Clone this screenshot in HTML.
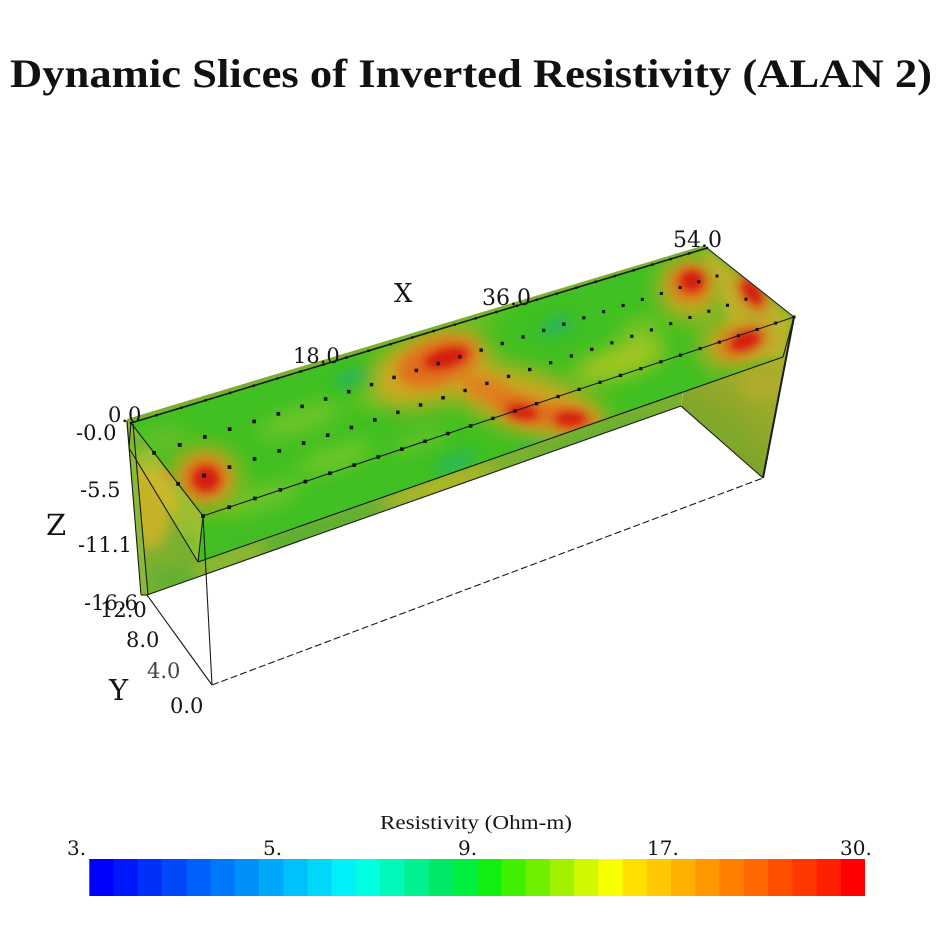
<!DOCTYPE html>
<html>
<head>
<meta charset="utf-8">
<style>
html,body{margin:0;padding:0;background:#fff;}
svg{display:block;}
</style>
</head>
<body>
<svg width="946" height="946" viewBox="0 0 946 946">
<defs>
<filter id="f12" filterUnits="userSpaceOnUse" x="0" y="0" width="946" height="946"><feGaussianBlur stdDeviation="12"/></filter>
<filter id="f10" filterUnits="userSpaceOnUse" x="0" y="0" width="946" height="946"><feGaussianBlur stdDeviation="10"/></filter>
<filter id="f7" filterUnits="userSpaceOnUse" x="0" y="0" width="946" height="946"><feGaussianBlur stdDeviation="7"/></filter>
<filter id="f5" filterUnits="userSpaceOnUse" x="0" y="0" width="946" height="946"><feGaussianBlur stdDeviation="5"/></filter>
<filter id="f3" filterUnits="userSpaceOnUse" x="0" y="0" width="946" height="946"><feGaussianBlur stdDeviation="4"/></filter>
<clipPath id="cTF"><polygon points="131,423 707,248 794,317 783,357 198,562 203,516"/></clipPath>
<clipPath id="cL"><polygon points="131,423 203,516 198,562 129,448"/></clipPath>
<clipPath id="cK"><polygon points="127,419 705,245 681,406 147,595"/></clipPath>
<clipPath id="cR"><polygon points="707,248 794,317 763,478 681,406"/></clipPath>
<linearGradient id="gR" gradientUnits="userSpaceOnUse" x1="790" y1="345" x2="705" y2="460">
<stop offset="0" stop-color="#b6ae2c"/>
<stop offset="0.45" stop-color="#9aaa2a"/>
<stop offset="1" stop-color="#70a42a"/>
</linearGradient>
</defs>

<rect x="0" y="0" width="946" height="946" fill="#ffffff"/>

<!-- Title -->
<text x="10" y="87" font-family="Liberation Serif, serif" font-weight="bold" font-size="40" fill="#111" textLength="922" lengthAdjust="spacingAndGlyphs">Dynamic Slices of Inverted Resistivity (ALAN 2)</text>

<!-- Back X-Z slice -->
<g clip-path="url(#cK)">
<rect x="100" y="200" width="700" height="420" fill="#7ab030"/>
<g filter="url(#f7)">
<ellipse cx="150" cy="505" rx="22" ry="45" fill="#c6b228"/>
<ellipse cx="143" cy="465" rx="10" ry="20" fill="#cbb82a"/>
<ellipse cx="175" cy="580" rx="25" ry="12" fill="#62b030"/>
<ellipse cx="440" cy="486" rx="60" ry="7" transform="rotate(-19 440 486)" fill="#c0b828"/>
<ellipse cx="300" cy="536" rx="90" ry="7" transform="rotate(-19 300 536)" fill="#52b030"/>
<ellipse cx="600" cy="438" rx="70" ry="6" transform="rotate(-19 600 438)" fill="#56b030"/>
<ellipse cx="230" cy="560" rx="40" ry="7" transform="rotate(-19 230 560)" fill="#94ba30"/>
</g>
</g>

<!-- thin left strip -->
<polygon points="126,420 133,423 148,595 141,595" fill="#8cb838"/>

<!-- Right Y-Z slice -->
<g clip-path="url(#cR)">
<polygon points="707,248 794,317 763,478 681,406" fill="url(#gR)"/>
<g filter="url(#f7)">
<ellipse cx="720" cy="430" rx="30" ry="15" transform="rotate(40 720 430)" fill="#80a82a"/>
<ellipse cx="760" cy="385" rx="20" ry="14" fill="#b0ac2c"/>
</g>
</g>

<!-- Slab left face -->
<g clip-path="url(#cL)">
<rect x="120" y="415" width="90" height="155" fill="#9cbe30"/>
<g filter="url(#f5)">
<ellipse cx="160" cy="490" rx="12" ry="28" transform="rotate(-35 160 490)" fill="#cab82a"/>
<ellipse cx="138" cy="442" rx="12" ry="10" fill="#6cb830"/>
<ellipse cx="188" cy="543" rx="10" ry="14" fill="#86bc30"/>
<ellipse cx="174" cy="472" rx="10" ry="9" fill="#d8902a"/>
</g>
</g>

<!-- Slab top + front faces -->
<g clip-path="url(#cTF)">
<rect x="120" y="240" width="680" height="330" fill="#40c022"/>
<g filter="url(#f10)">
<ellipse cx="160" cy="440" rx="30" ry="10" transform="rotate(-18 160 440)" fill="#6cc02a"/>
<ellipse cx="300" cy="420" rx="45" ry="10" transform="rotate(-18 300 420)" fill="#7cc62a"/>
<ellipse cx="335" cy="458" rx="40" ry="9" transform="rotate(-18 335 458)" fill="#80c82a"/>
<ellipse cx="260" cy="498" rx="45" ry="10" transform="rotate(-18 260 498)" fill="#78c42a"/>
<ellipse cx="380" cy="395" rx="30" ry="8" transform="rotate(-18 380 395)" fill="#78c42a"/>
<ellipse cx="620" cy="362" rx="50" ry="15" transform="rotate(-18 620 362)" fill="#aac424"/>
<ellipse cx="640" cy="330" rx="22" ry="9" transform="rotate(-18 640 330)" fill="#8cc428"/>
<ellipse cx="240" cy="545" rx="40" ry="8" transform="rotate(-19 240 545)" fill="#4ab82a"/>
<ellipse cx="470" cy="320" rx="40" ry="8" transform="rotate(-18 470 320)" fill="#6cc42a"/>
<ellipse cx="420" cy="440" rx="30" ry="8" transform="rotate(-18 420 440)" fill="#6cc42a"/>
</g>
<g filter="url(#f7)">
<ellipse cx="352" cy="378" rx="18" ry="7" transform="rotate(-18 352 378)" fill="#24b466"/>
<ellipse cx="556" cy="326" rx="18" ry="7" transform="rotate(-18 556 326)" fill="#24b466"/>
<ellipse cx="548" cy="446" rx="35" ry="8" transform="rotate(-19 548 446)" fill="#22b46a"/>
<ellipse cx="455" cy="462" rx="22" ry="7" transform="rotate(-19 455 462)" fill="#28b660"/>
</g>
<g filter="url(#f12)">
<ellipse cx="205" cy="478" rx="34" ry="30" fill="#d4a422"/>
<ellipse cx="430" cy="368" rx="62" ry="36" transform="rotate(-20 430 368)" fill="#d4a822"/>
<ellipse cx="528" cy="402" rx="85" ry="30" transform="rotate(18 528 402)" fill="#ccaa22"/>
<ellipse cx="690" cy="288" rx="32" ry="32" fill="#ccaa22"/>
<ellipse cx="742" cy="340" rx="44" ry="26" transform="rotate(-20 742 340)" fill="#d0a822"/>
</g>
<g filter="url(#f5)">
<polygon points="700,251 707,248 794,317 788,360 740,356 720,300" fill="#bab22a"/>
</g>
<g filter="url(#f7)">
<ellipse cx="205" cy="478" rx="22" ry="20" fill="#e06a1a"/>
<ellipse cx="438" cy="362" rx="42" ry="22" transform="rotate(-18 438 362)" fill="#e06a1a"/>
<ellipse cx="488" cy="390" rx="28" ry="13" transform="rotate(20 488 390)" fill="#e0801c"/>
<ellipse cx="525" cy="410" rx="32" ry="14" transform="rotate(15 525 410)" fill="#e06a1a"/>
<ellipse cx="568" cy="418" rx="30" ry="13" transform="rotate(10 568 418)" fill="#e06a1a"/>
<ellipse cx="690" cy="283" rx="20" ry="18" fill="#e06a1a"/>
<ellipse cx="743" cy="341" rx="26" ry="14" transform="rotate(-20 743 341)" fill="#e06a1a"/>
<ellipse cx="752" cy="293" rx="11" ry="22" transform="rotate(-35 752 293)" fill="#e06a1a"/>
</g>
<g filter="url(#f3)">
<ellipse cx="206" cy="479" rx="13" ry="12" fill="#d41a10"/>
<ellipse cx="446" cy="358" rx="22" ry="9" transform="rotate(-15 446 358)" fill="#d41a10"/>
<ellipse cx="522" cy="412" rx="15" ry="7" transform="rotate(10 522 412)" fill="#d42410"/>
<ellipse cx="570" cy="419" rx="15" ry="7" fill="#d42410"/>
<ellipse cx="692" cy="281" rx="11" ry="10" fill="#d41a10"/>
<ellipse cx="745" cy="341" rx="15" ry="8" transform="rotate(-20 745 341)" fill="#d41a10"/>
<ellipse cx="752" cy="292" rx="7" ry="14" transform="rotate(-35 752 292)" fill="#d01a10"/>
</g>
</g>

<!-- Edges -->
<g stroke="#1a1a1a" stroke-width="1.1" fill="none">
<line x1="131" y1="423" x2="707" y2="248" stroke-width="1.6"/>
<line x1="131" y1="423" x2="203" y2="516"/>
<line x1="203" y1="516" x2="794" y2="317"/>
<line x1="198" y1="562" x2="783" y2="357"/>
<line x1="203" y1="516" x2="198" y2="562"/>
<line x1="129" y1="448" x2="198" y2="562"/>
<line x1="131" y1="423" x2="129" y2="448"/>
<line x1="794" y1="317" x2="783" y2="357"/>
<line x1="707" y1="248" x2="794" y2="317"/>
<line x1="127" y1="421" x2="141" y2="595"/>
<line x1="133" y1="424" x2="148" y2="595"/>
<line x1="141" y1="595" x2="148" y2="595"/>
<line x1="147" y1="595" x2="681" y2="406"/>
<line x1="681" y1="406" x2="763" y2="478"/>
<line x1="794" y1="317" x2="763" y2="478" stroke-width="2"/>
<line x1="203" y1="516" x2="212" y2="685"/>
<line x1="147" y1="595" x2="212" y2="685"/>
<line x1="212" y1="685" x2="763" y2="478" stroke-dasharray="7 3"/>
</g>

<!-- Electrode dots -->
<g id="dots" fill="#111"></g>

<!-- Axis labels -->
<g font-family="DejaVu Serif, serif" fill="#151515">
<text x="108" y="422" font-size="21">0.0</text>
<text x="76" y="440" font-size="21">-0.0</text>
<text x="80" y="497" font-size="21">-5.5</text>
<text x="46" y="535" font-size="29">Z</text>
<text x="78" y="552" font-size="21">-11.1</text>
<text x="84" y="610" font-size="21">-16.6</text>
<text x="100" y="617" font-size="21">12.0</text>
<text x="126" y="647" font-size="21">8.0</text>
<text x="147" y="678" font-size="21" fill="#444">4.0</text>
<text x="109" y="700" font-size="29">Y</text>
<text x="170" y="713" font-size="21">0.0</text>
<text x="293" y="363" font-size="21">18.0</text>
<text x="394" y="302" font-size="26">X</text>
<text x="482" y="305" font-size="22">36.0</text>
<text x="673" y="247" font-size="22">54.0</text>
</g>

<!-- Colorbar -->
<text x="380" y="829" font-family="Liberation Serif, serif" font-size="20" fill="#151515" textLength="192" lengthAdjust="spacingAndGlyphs">Resistivity (Ohm-m)</text>
<g font-family="DejaVu Serif, serif" font-size="20" fill="#151515">
<text x="67" y="855">3.</text>
<text x="263" y="855">5.</text>
<text x="458" y="855">9.</text>
<text x="647" y="855">17.</text>
<text x="840" y="855">30.</text>
</g>
<g>
<rect x="89.3" y="859" width="24.6" height="37" fill="#0000ff"/>
<rect x="113.5" y="859" width="24.6" height="37" fill="#0018fa"/>
<rect x="137.8" y="859" width="24.6" height="37" fill="#0030fa"/>
<rect x="162.0" y="859" width="24.6" height="37" fill="#0048fa"/>
<rect x="186.3" y="859" width="24.6" height="37" fill="#0060fa"/>
<rect x="210.5" y="859" width="24.6" height="37" fill="#0078fa"/>
<rect x="234.7" y="859" width="24.6" height="37" fill="#0090fa"/>
<rect x="259.0" y="859" width="24.6" height="37" fill="#00a8fa"/>
<rect x="283.2" y="859" width="24.6" height="37" fill="#00c0fa"/>
<rect x="307.5" y="859" width="24.6" height="37" fill="#00d8fa"/>
<rect x="331.7" y="859" width="24.6" height="37" fill="#00f0fa"/>
<rect x="355.9" y="859" width="24.6" height="37" fill="#00ffe0"/>
<rect x="380.2" y="859" width="24.6" height="37" fill="#00f8b8"/>
<rect x="404.4" y="859" width="24.6" height="37" fill="#00f090"/>
<rect x="428.7" y="859" width="24.6" height="37" fill="#00e868"/>
<rect x="452.9" y="859" width="24.6" height="37" fill="#00f040"/>
<rect x="477.1" y="859" width="24.6" height="37" fill="#10f010"/>
<rect x="501.4" y="859" width="24.6" height="37" fill="#40f000"/>
<rect x="525.6" y="859" width="24.6" height="37" fill="#70f000"/>
<rect x="549.9" y="859" width="24.6" height="37" fill="#a0f000"/>
<rect x="574.1" y="859" width="24.6" height="37" fill="#d0f800"/>
<rect x="598.3" y="859" width="24.6" height="37" fill="#f8ff00"/>
<rect x="622.6" y="859" width="24.6" height="37" fill="#ffe000"/>
<rect x="646.8" y="859" width="24.6" height="37" fill="#ffc800"/>
<rect x="671.1" y="859" width="24.6" height="37" fill="#ffb000"/>
<rect x="695.3" y="859" width="24.6" height="37" fill="#ff9800"/>
<rect x="719.5" y="859" width="24.6" height="37" fill="#ff8000"/>
<rect x="743.8" y="859" width="24.6" height="37" fill="#ff6800"/>
<rect x="768.0" y="859" width="24.6" height="37" fill="#ff5000"/>
<rect x="792.3" y="859" width="24.6" height="37" fill="#ff3800"/>
<rect x="816.5" y="859" width="24.6" height="37" fill="#ff2000"/>
<rect x="840.7" y="859" width="24.3" height="37" fill="#ff0000"/>
</g>
</svg>
<script>
(function(){
var x0=203,y0=516,x1=794,y1=317,x2=707,y2=248,x3=131,y3=423;
var dx1=x1-x2,dx2=x3-x2,dx3=x0-x1+x2-x3,dy1=y1-y2,dy2=y3-y2,dy3=y0-y1+y2-y3;
var den=dx1*dy2-dx2*dy1;
var g=(dx3*dy2-dx2*dy3)/den,h=(dx1*dy3-dx3*dy1)/den;
var a=x1-x0+g*x1,b=x3-x0+h*x3,d=y1-y0+g*y1,e=y3-y0+h*y3;
var s='';
for(var r=0;r<4;r++){
  var v=r/3;
  var n=(r==1||r==2)?27:28;
  for(var i=0;i<n;i++){
    var u=i/27;
    var w=g*u+h*v+1;
    var X=(a*u+b*v+x0)/w, Y=(d*u+e*v+y0)/w;
    var z=(r==3)?2.4:(3.8-u*0.8);
    s+='<rect x="'+(X-z/2).toFixed(1)+'" y="'+(Y-z/2).toFixed(1)+'" width="'+z.toFixed(1)+'" height="'+z.toFixed(1)+'"/>';
  }
}
document.getElementById('dots').innerHTML=s;
})();
</script>
</body>
</html>
